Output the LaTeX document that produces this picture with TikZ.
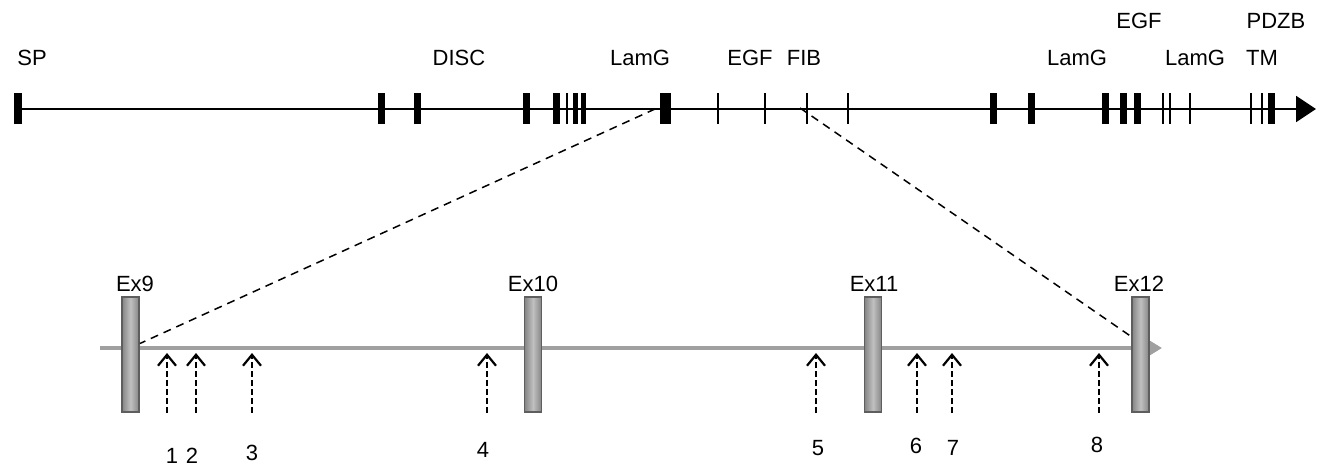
\documentclass[tikz,border=0pt]{standalone}
\usepackage{fontspec}
\setmainfont{Liberation Sans}
\usetikzlibrary{arrows.meta, calc, positioning}

\definecolor{axisgray}{HTML}{A0A0A0}
\definecolor{exonedge}{HTML}{5E5E5E}
\definecolor{exondark}{HTML}{858585}
\definecolor{exonlight}{HTML}{C0C0C0}

\begin{document}
\begin{tikzpicture}[x=0.5pt, y=-0.5pt,
		lbl/.style={font=\fontsize{11}{13}\selectfont, anchor=base, inner sep=0pt},
		exon/.style={draw=exonedge, line width=0.9pt, left color=exondark, right color=exondark, middle color=exonlight, minimum width=8.5pt, minimum height=57.5pt, inner sep=0pt},
		zoomline/.style={dash pattern=on 4pt off 3pt, line width=0.75pt},
		snp/.style={-{Straight Barb[length=5.5pt,width=9pt,line width=1.1pt]}, line width=1pt, dash pattern=on 3pt off 1.5pt}]
		\useasboundingbox (0,0) rectangle (1323,467);
		
		% Gene (top)
		\draw[line width=1pt, -{Triangle[length=10pt,width=13pt]}] (18,109) -- (1316,109);
		\foreach \x/\w in {18/8, 381/7, 417/7, 526/7, 556/7, 567/2, 575/5, 583/5, 665/11, 718/2, 765/2, 807/2, 848/2,
				993/7, 1031/7, 1105/7, 1123/7, 1137/7, 1163/2, 1170/2, 1190/2, 1251/2, 1262/2, 1271/7}
			\fill (\x-\w/2,93) rectangle (\x+\w/2,124);
		\coordinate (lamg) at (655,109);
		\coordinate (fib) at (800,108);
		
		% Domains
		\node[lbl, anchor=base west] (sp) at (17,65) {SP};
		\node[lbl] (disc) at (459,65) {DISC};
		\node[lbl] (lamg1) at (640,65) {LamG};
		\node[lbl] (egf1) at (750,65) {EGF};
		\node[lbl] (fibl) at (804,65) {FIB};
		\node[lbl] (lamg2) at (1077,65) {LamG};
		\node[lbl] (egf2) at (1139,28) {EGF};
		\node[lbl] (lamg3) at (1195,65) {LamG};
		\node[lbl] (tm) at (1262,65) {TM};
		\node[lbl] (pdzb) at (1276,28) {PDZB};
		
		% Zoomed region (bottom)
		\draw[axisgray, line width=2pt, -{Triangle[length=7pt,width=8pt]}] (100,348) -- (1162,348);
		\node[exon] (ex9) at (130.5,354.5) {};
		\node[exon] (ex10) at (533,354.5) {};
		\node[exon] (ex11) at (873,354.5) {};
		\node[exon] (ex12) at (1140.5,354.5) {};
		\node[lbl] at (135,291) {Ex9};
		\node[lbl] at (533,291) {Ex10};
		\node[lbl] at (874,291) {Ex11};
		\node[lbl] at (1139,291) {Ex12};
		
		\draw[zoomline] (lamg) -- ([yshift=5.5pt]ex9.east);
		\draw[zoomline] (fib) -- ([yshift=9pt]ex12.west);
		
		% Variant positions
		\foreach \n/\x/\lx/\ly in {1/167/172/463, 2/196/192/463, 3/252/252/460, 4/487/483/457,
				5/816/818/455, 6/917/916/453, 7/952/953/455, 8/1099/1097/452} {
			\coordinate (s\n) at (\x,413);
			\coordinate (t\n) at (\x,353);
			\draw[snp] (s\n) -- (t\n);
			\node[lbl] (n\n) at (\lx,\ly) {\n};
		}
	\end{tikzpicture}
\end{document}
